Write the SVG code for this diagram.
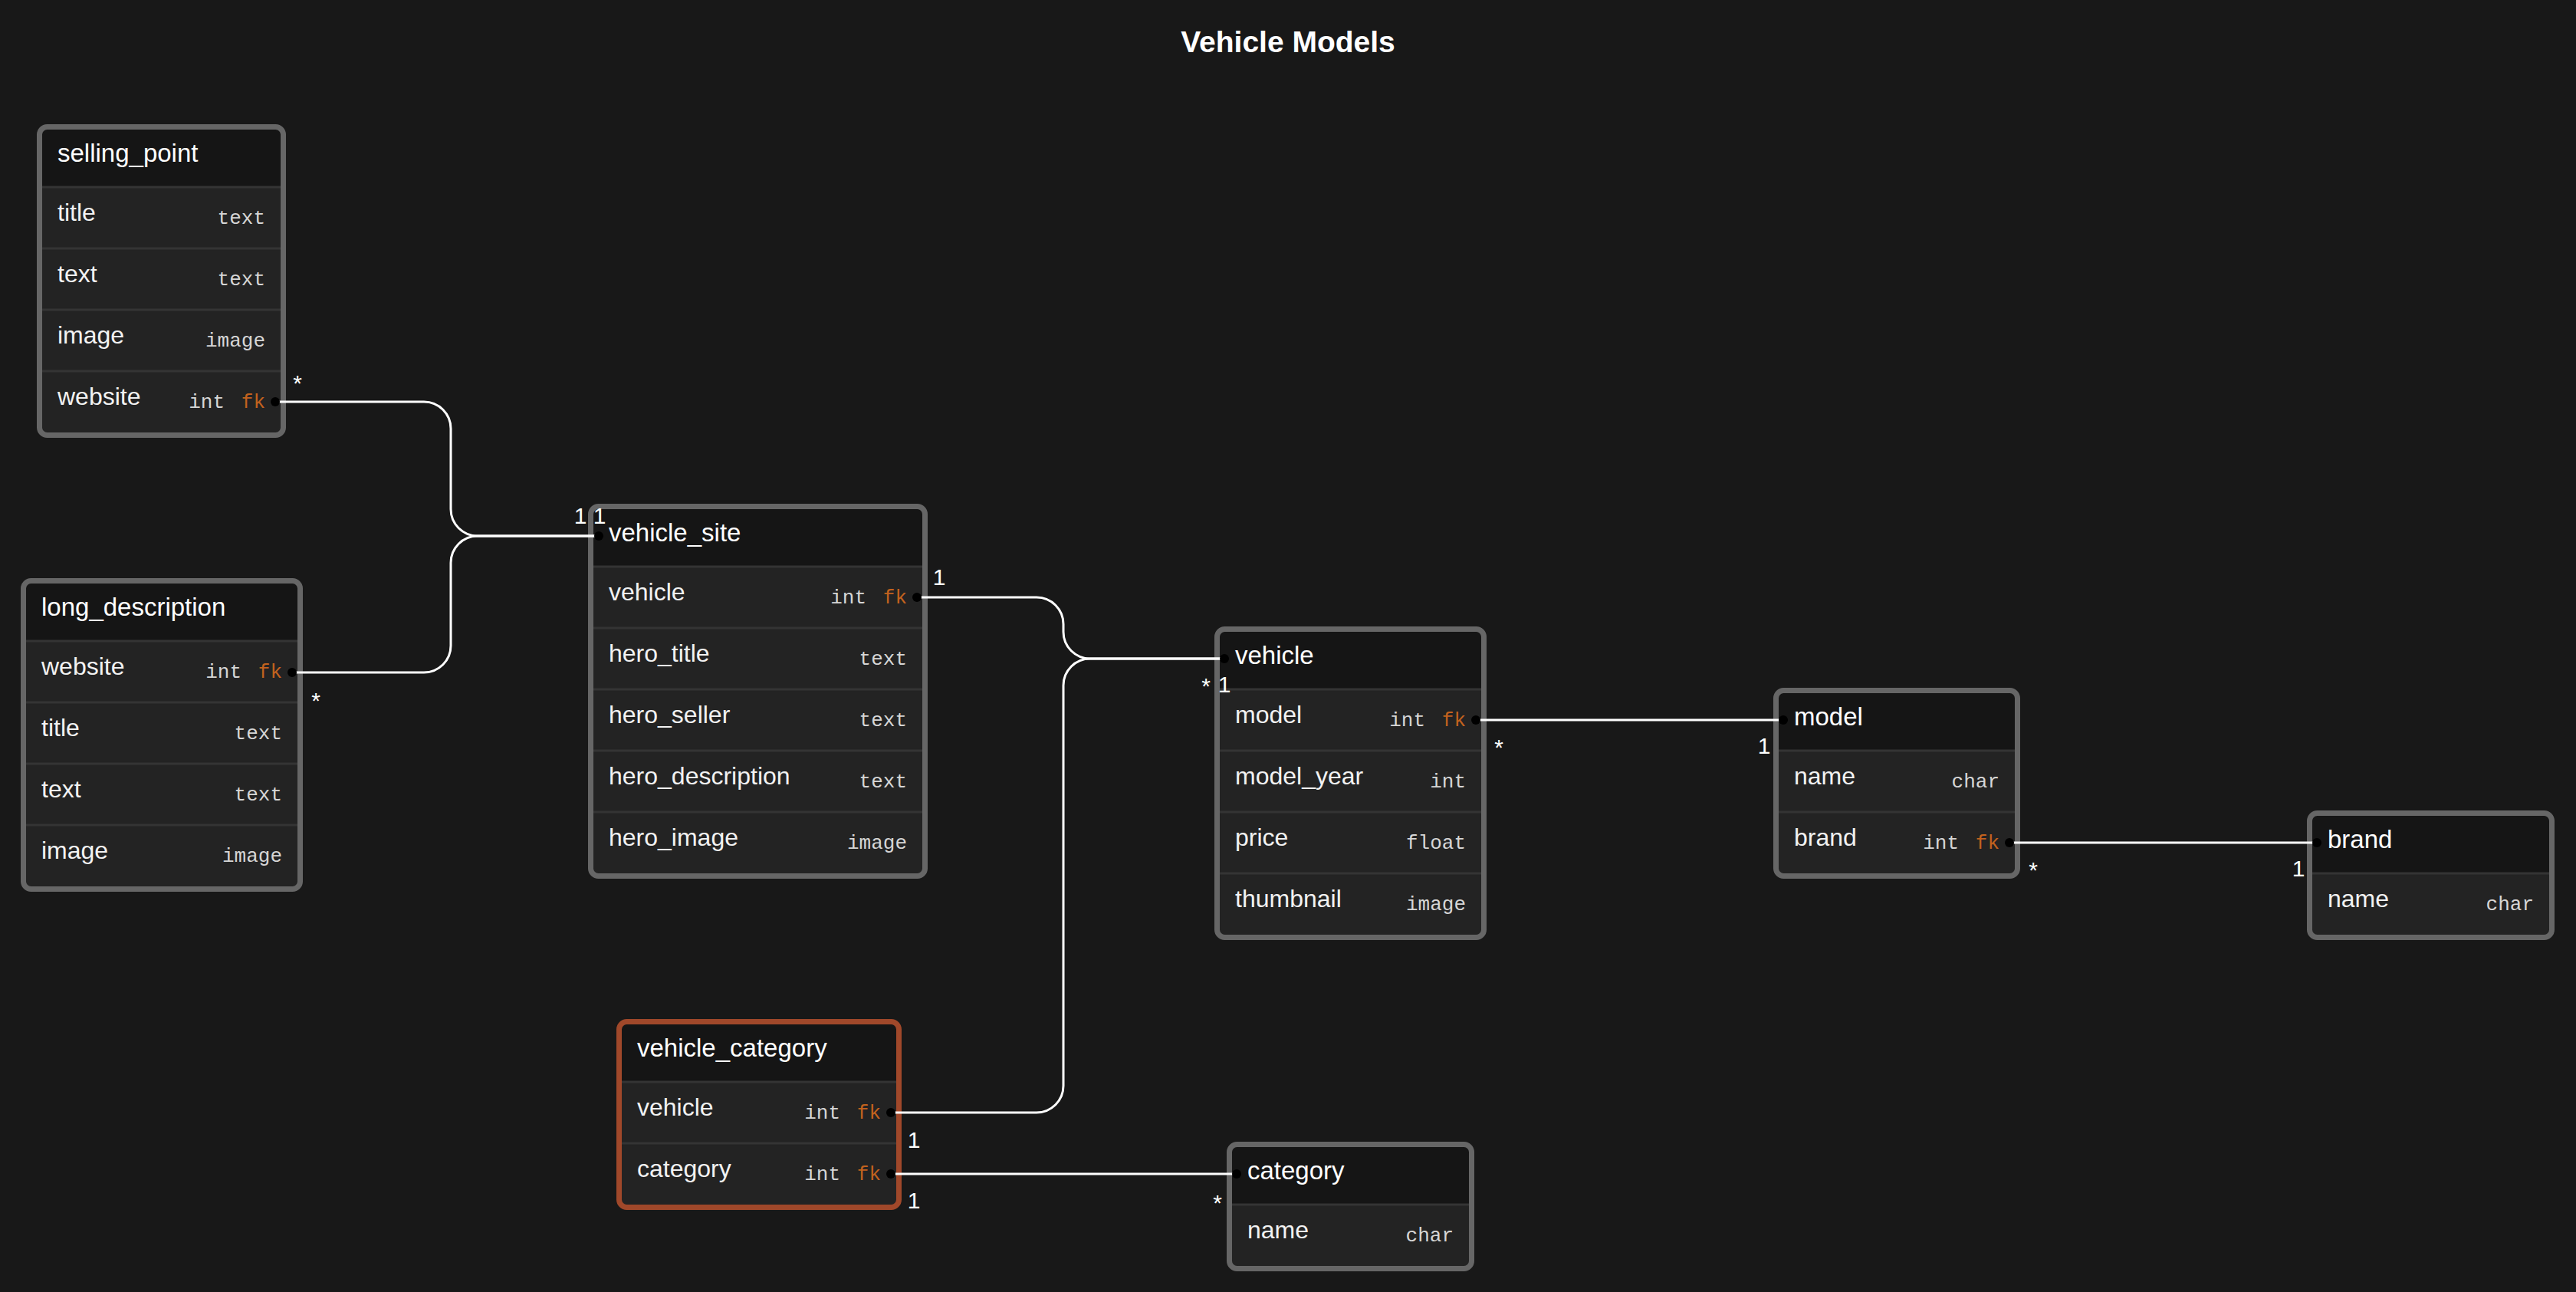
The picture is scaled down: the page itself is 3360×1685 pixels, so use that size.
<svg xmlns="http://www.w3.org/2000/svg" width="3360" height="1685" viewBox="0 0 3360 1685">
<style>
.bg{fill:#181818}
.hdr{fill:#151515}
.row{fill:#232323}
.sep{stroke:#343434;stroke-width:3}
.bd{fill:none;stroke:#666666;stroke-width:7}
.bdo{fill:none;stroke:#a0482a;stroke-width:7}
.tn{font-family:"Liberation Sans",Arial,sans-serif;font-size:33px;fill:#ffffff}
.fn{font-family:"Liberation Sans",Arial,sans-serif;font-size:32px;fill:#f2f2f2}
.ty{font-family:"Liberation Mono","DejaVu Sans Mono",monospace;font-size:26px;fill:#d6d6d6;text-anchor:end}
.fk{font-family:"Liberation Mono","DejaVu Sans Mono",monospace;font-size:26px;fill:#c2621e;text-anchor:end}
.conn{fill:none;stroke:#ffffff;stroke-width:3}
.dot{fill:#000000}
.lb{font-family:"Liberation Sans",Arial,sans-serif;font-size:30px;fill:#ffffff;text-anchor:middle}
.title{font-family:"Liberation Sans",Arial,sans-serif;font-size:39px;font-weight:bold;fill:#ffffff;text-anchor:middle}
</style>
<rect class="bg" x="0" y="0" width="3360" height="1685"/>
<text class="title" x="1680" y="68">Vehicle Models</text>

<!-- selling_point L=48 T=162 R=373 -->
<g id="selling_point">
<rect class="hdr" x="51" y="165" width="319" height="403" rx="10"/>
<rect class="row" x="55" y="244" width="311" height="320"/>
<line class="sep" x1="55" y1="244" x2="366" y2="244"/>
<line class="sep" x1="55" y1="324" x2="366" y2="324"/>
<line class="sep" x1="55" y1="404" x2="366" y2="404"/>
<line class="sep" x1="55" y1="484" x2="366" y2="484"/>
<rect class="bd" x="51.5" y="165.5" width="318" height="402" rx="10"/>
<text class="tn" x="75" y="211">selling_point</text>
<text class="fn" x="75" y="288">title</text><text class="ty" x="346" y="292">text</text>
<text class="fn" x="75" y="368">text</text><text class="ty" x="346" y="372">text</text>
<text class="fn" x="75" y="448">image</text><text class="ty" x="346" y="452">image</text>
<text class="fn" x="75" y="528">website</text><text class="ty" x="293" y="532">int</text><text class="fk" x="346" y="532">fk</text>
</g>

<!-- long_description L=27 T=754 R=395 -->
<g id="long_description">
<rect class="hdr" x="30" y="757" width="362" height="403" rx="10"/>
<rect class="row" x="34" y="836" width="354" height="320"/>
<line class="sep" x1="34" y1="836" x2="388" y2="836"/>
<line class="sep" x1="34" y1="916" x2="388" y2="916"/>
<line class="sep" x1="34" y1="996" x2="388" y2="996"/>
<line class="sep" x1="34" y1="1076" x2="388" y2="1076"/>
<rect class="bd" x="30.5" y="757.5" width="361" height="402" rx="10"/>
<text class="tn" x="54" y="803">long_description</text>
<text class="fn" x="54" y="880">website</text><text class="ty" x="315" y="884">int</text><text class="fk" x="368" y="884">fk</text>
<text class="fn" x="54" y="960">title</text><text class="ty" x="368" y="964">text</text>
<text class="fn" x="54" y="1040">text</text><text class="ty" x="368" y="1044">text</text>
<text class="fn" x="54" y="1120">image</text><text class="ty" x="368" y="1124">image</text>
</g>

<!-- vehicle_site L=767 T=657 R=1210 -->
<g id="vehicle_site">
<rect class="hdr" x="770" y="660" width="437" height="483" rx="10"/>
<rect class="row" x="774" y="739" width="429" height="400"/>
<line class="sep" x1="774" y1="739" x2="1203" y2="739"/>
<line class="sep" x1="774" y1="819" x2="1203" y2="819"/>
<line class="sep" x1="774" y1="899" x2="1203" y2="899"/>
<line class="sep" x1="774" y1="979" x2="1203" y2="979"/>
<line class="sep" x1="774" y1="1059" x2="1203" y2="1059"/>
<rect class="bd" x="770.5" y="660.5" width="436" height="482" rx="10"/>
<text class="tn" x="794" y="706">vehicle_site</text>
<text class="fn" x="794" y="783">vehicle</text><text class="ty" x="1130" y="787">int</text><text class="fk" x="1183" y="787">fk</text>
<text class="fn" x="794" y="863">hero_title</text><text class="ty" x="1183" y="867">text</text>
<text class="fn" x="794" y="943">hero_seller</text><text class="ty" x="1183" y="947">text</text>
<text class="fn" x="794" y="1023">hero_description</text><text class="ty" x="1183" y="1027">text</text>
<text class="fn" x="794" y="1103">hero_image</text><text class="ty" x="1183" y="1107">image</text>
</g>

<!-- vehicle L=1584 T=817 R=1939 -->
<g id="vehicle">
<rect class="hdr" x="1587" y="820" width="349" height="403" rx="10"/>
<rect class="row" x="1591" y="899" width="341" height="320"/>
<line class="sep" x1="1591" y1="899" x2="1932" y2="899"/>
<line class="sep" x1="1591" y1="979" x2="1932" y2="979"/>
<line class="sep" x1="1591" y1="1059" x2="1932" y2="1059"/>
<line class="sep" x1="1591" y1="1139" x2="1932" y2="1139"/>
<rect class="bd" x="1587.5" y="820.5" width="348" height="402" rx="10"/>
<text class="tn" x="1611" y="866">vehicle</text>
<text class="fn" x="1611" y="943">model</text><text class="ty" x="1859" y="947">int</text><text class="fk" x="1912" y="947">fk</text>
<text class="fn" x="1611" y="1023">model_year</text><text class="ty" x="1912" y="1027">int</text>
<text class="fn" x="1611" y="1103">price</text><text class="ty" x="1912" y="1107">float</text>
<text class="fn" x="1611" y="1183">thumbnail</text><text class="ty" x="1912" y="1187">image</text>
</g>

<!-- model L=2313 T=897 R=2635 -->
<g id="model">
<rect class="hdr" x="2316" y="900" width="316" height="243" rx="10"/>
<rect class="row" x="2320" y="979" width="308" height="160"/>
<line class="sep" x1="2320" y1="979" x2="2628" y2="979"/>
<line class="sep" x1="2320" y1="1059" x2="2628" y2="1059"/>
<rect class="bd" x="2316.5" y="900.5" width="315" height="242" rx="10"/>
<text class="tn" x="2340" y="946">model</text>
<text class="fn" x="2340" y="1023">name</text><text class="ty" x="2608" y="1027">char</text>
<text class="fn" x="2340" y="1103">brand</text><text class="ty" x="2555" y="1107">int</text><text class="fk" x="2608" y="1107">fk</text>
</g>

<!-- brand L=3009 T=1057 R=3332 -->
<g id="brand">
<rect class="hdr" x="3012" y="1060" width="317" height="163" rx="10"/>
<rect class="row" x="3016" y="1139" width="309" height="80"/>
<line class="sep" x1="3016" y1="1139" x2="3325" y2="1139"/>
<rect class="bd" x="3012.5" y="1060.5" width="316" height="162" rx="10"/>
<text class="tn" x="3036" y="1106">brand</text>
<text class="fn" x="3036" y="1183">name</text><text class="ty" x="3305" y="1187">char</text>
</g>

<!-- vehicle_category L=804 T=1329 R=1176 -->
<g id="vehicle_category">
<rect class="hdr" x="807" y="1332" width="366" height="243" rx="10"/>
<rect class="row" x="811" y="1411" width="358" height="160"/>
<line class="sep" x1="811" y1="1411" x2="1169" y2="1411"/>
<line class="sep" x1="811" y1="1491" x2="1169" y2="1491"/>
<rect class="bdo" x="807.5" y="1332.5" width="365" height="242" rx="10"/>
<text class="tn" x="831" y="1378">vehicle_category</text>
<text class="fn" x="831" y="1455">vehicle</text><text class="ty" x="1096" y="1459">int</text><text class="fk" x="1149" y="1459">fk</text>
<text class="fn" x="831" y="1535">category</text><text class="ty" x="1096" y="1539">int</text><text class="fk" x="1149" y="1539">fk</text>
</g>

<!-- category L=1600 T=1489 R=1923 -->
<g id="category">
<rect class="hdr" x="1603" y="1492" width="317" height="163" rx="10"/>
<rect class="row" x="1607" y="1571" width="309" height="80"/>
<line class="sep" x1="1607" y1="1571" x2="1916" y2="1571"/>
<rect class="bd" x="1603.5" y="1492.5" width="316" height="162" rx="10"/>
<text class="tn" x="1627" y="1538">category</text>
<text class="fn" x="1627" y="1615">name</text><text class="ty" x="1896" y="1619">char</text>
</g>

<g id="connectors">
<path class="conn" d="M359 524 H553 A35 35 0 0 1 588 559 V664 A35 35 0 0 0 623 699 H781"/>
<path class="conn" d="M381 877 H553 A35 35 0 0 0 588 842 V734 A35 35 0 0 1 623 699 H781"/>
<path class="conn" d="M1196 779 H1352 A35 35 0 0 1 1387 814 V824 A35 35 0 0 0 1422 859 H1597"/>
<path class="conn" d="M1162 1451 H1352 A35 35 0 0 0 1387 1416 V894 A35 35 0 0 1 1422 859 H1597"/>
<path class="conn" d="M1925 939 H2326"/>
<path class="conn" d="M2621 1099 H3022"/>
<path class="conn" d="M1162 1531 H1613"/>
<circle class="dot" cx="359" cy="524" r="6"/>
<circle class="dot" cx="381" cy="877" r="6"/>
<circle class="dot" cx="781" cy="699" r="6"/>
<circle class="dot" cx="1196" cy="779" r="6"/>
<circle class="dot" cx="1597" cy="859" r="6"/>
<circle class="dot" cx="1925" cy="939" r="6"/>
<circle class="dot" cx="2326" cy="939" r="6"/>
<circle class="dot" cx="2621" cy="1099" r="6"/>
<circle class="dot" cx="3022" cy="1099" r="6"/>
<circle class="dot" cx="1162" cy="1451" r="6"/>
<circle class="dot" cx="1162" cy="1531" r="6"/>
<circle class="dot" cx="1613" cy="1531" r="6"/>
<text class="lb" x="388" y="510">*</text>
<text class="lb" x="412" y="924">*</text>
<text class="lb" x="757" y="683">1</text>
<text class="lb" x="782" y="683">1</text>
<text class="lb" x="1225" y="763">1</text>
<text class="lb" x="1573" y="905">*</text>
<text class="lb" x="1597" y="903">1</text>
<text class="lb" x="1955" y="985">*</text>
<text class="lb" x="2301" y="983">1</text>
<text class="lb" x="2652" y="1145">*</text>
<text class="lb" x="2998" y="1143">1</text>
<text class="lb" x="1192" y="1497">1</text>
<text class="lb" x="1192" y="1576">1</text>
<text class="lb" x="1588" y="1579">*</text>
</g>
</svg>
